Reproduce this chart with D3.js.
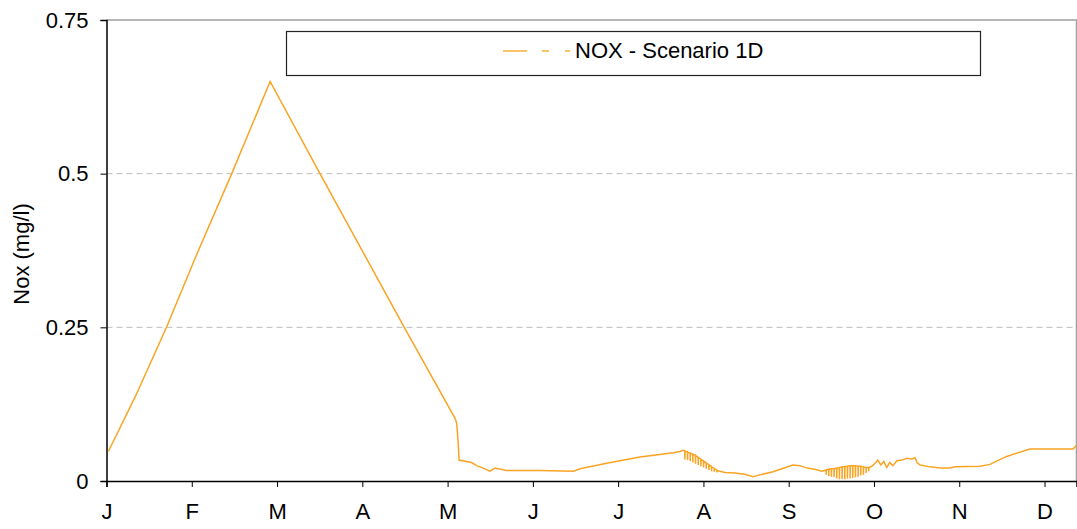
<!DOCTYPE html>
<html>
<head>
<meta charset="utf-8">
<script src="https://cdn.jsdelivr.net/npm/d3@7"></script>
<style>
  body { margin: 0; background: #fff; }
  text { font-family: "Liberation Sans", Arial, sans-serif; fill: #000; }
</style>
</head>
<body>
<svg id="chart"></svg>
<script>
// Month labels on the x axis (one tick every 32 days, as in the original)
const monthLabels = ['J', 'F', 'M', 'A', 'M', 'J', 'J', 'A', 'S', 'O', 'N', 'D'];
const yTicks = [0, 0.25, 0.5, 0.75];

// Day of year
const days = [
    0.7, 11.1, 22.6, 33.8, 47.0, 61.4, 80.1, 112.0, 130.8, 131.4, 132.0, 132.3,
    137.0, 138.9, 141.4, 143.9, 145.8, 150.2, 162.7, 175.2, 177.7, 187.7, 200.2, 212.7, 215.2,
    // August: daily swings
    216.3,
    217.0, 217.05, 217.1, 218.0, 218.05, 218.1, 219.0, 219.05, 219.1,
    220.0, 220.05, 220.1, 221.0, 221.05, 221.1, 222.0, 222.05, 222.1,
    223.0, 223.05, 223.1, 224.0, 224.05, 224.1, 225.0, 225.05, 225.1,
    226.0, 226.05, 226.1, 227.0, 227.05, 227.1, 228.0, 228.05, 228.1,
    229.0, 229.05, 229.1,
    230.2, 232.1, 235.8, 239.6, 242.6, 245.2,
    250.1, 257.6, 260.2, 262.9, 265.8, 268.5,
    // late September / early October: daily swings
    270.0, 270.05, 270.1, 271.0, 271.05, 271.1, 272.0, 272.05, 272.1,
    273.0, 273.05, 273.1, 274.0, 274.05, 274.1, 275.0, 275.05, 275.1,
    276.0, 276.05, 276.1, 277.0, 277.05, 277.1, 278.0, 278.05, 278.1,
    279.0, 279.05, 279.1, 280.0, 280.05, 280.1, 281.0, 281.05, 281.1,
    282.0, 282.05, 282.1, 283.0, 283.05, 283.1, 284.0, 284.05, 284.1,
    285.0, 285.05, 285.1, 286.0, 286.05, 286.1,
    287.2, 288.7, 289.4, 290.6, 291.7, 292.8, 293.9, 295.1, 296.6, 298.5, 300.4, 302.3,
    303.4, 304.2, 305.3, 309.0, 312.8, 316.5, 318.4, 327.8, 331.5, 337.8, 346.5, 362.7, 364
];
// NOx concentration (mg/l) for each day above
const nox = [
    0.048, 0.140, 0.251, 0.368, 0.500, 0.650, 0.500, 0.248, 0.102, 0.094, 0.061, 0.034,
    0.030, 0.025, 0.021, 0.016, 0.021, 0.017, 0.017, 0.016, 0.020, 0.029, 0.039, 0.046, 0.048,
    0.050,
    0.049, 0.035, 0.048, 0.048, 0.034, 0.047, 0.046, 0.032, 0.045,
    0.044, 0.030, 0.043, 0.042, 0.028, 0.041, 0.039, 0.026, 0.038,
    0.036, 0.024, 0.035, 0.033, 0.022, 0.032, 0.030, 0.020, 0.029,
    0.027, 0.018, 0.026, 0.024, 0.016, 0.023, 0.021, 0.015, 0.020,
    0.018, 0.014, 0.017,
    0.016, 0.014, 0.013, 0.011, 0.007, 0.010,
    0.015, 0.026, 0.025, 0.021, 0.019, 0.016,
    0.018, 0.010, 0.018, 0.019, 0.008, 0.019, 0.020, 0.007, 0.020,
    0.020, 0.006, 0.020, 0.021, 0.004, 0.021, 0.022, 0.003, 0.022,
    0.023, 0.003, 0.023, 0.023, 0.003, 0.023, 0.024, 0.004, 0.024,
    0.025, 0.004, 0.025, 0.025, 0.005, 0.025, 0.025, 0.006, 0.025,
    0.024, 0.007, 0.024, 0.024, 0.009, 0.024, 0.023, 0.010, 0.023,
    0.022, 0.013, 0.022, 0.022, 0.016, 0.022,
    0.024, 0.030, 0.034, 0.026, 0.032, 0.022, 0.030, 0.025, 0.033, 0.034, 0.037, 0.036,
    0.038, 0.030, 0.026, 0.023, 0.021, 0.021, 0.023, 0.024, 0.027, 0.040, 0.052, 0.052, 0.058
];

const W = 1077, H = 529;
const bounds = { left: 106.5, right: 1076.5, top: 20, bottom: 481 };
const lineColor = '#FAA424';
const fontSize = '22px';

let svg = d3.select('#chart').attr('width', W).attr('height', H);

let xScale = d3.scaleLinear().domain([0, 364]).range([bounds.left, bounds.right]);
let yScale = d3.scaleLinear().domain([0, 0.75]).range([bounds.bottom, bounds.top]);

// Plot area border (top and right are grey)
svg.append('path')
    .attr('d', `M${bounds.left},${bounds.top}H${bounds.right}V${bounds.bottom}`)
    .attr('fill', 'none')
    .attr('stroke', '#a0a0a0')
    .attr('stroke-width', 1.5);

// Dashed gridlines
svg.append('g')
    .selectAll('line')
    .data(yTicks.filter(d => d > 0 && d < 0.75))
    .enter()
    .append('line')
    .attr('x1', bounds.left)
    .attr('x2', bounds.right)
    .attr('y1', d => yScale(d))
    .attr('y2', d => yScale(d))
    .attr('stroke', '#bdbdbd')
    .attr('stroke-dasharray', '6,4');

// Y axis
let yAxis = svg.append('g')
    .attr('transform', `translate(${bounds.left},0)`)
    .call(d3.axisLeft(yScale).tickValues(yTicks).tickSize(6).tickPadding(12)
        .tickFormat(d => d === 0 ? '0' : String(d)));
yAxis.select('.domain').attr('stroke', '#000').attr('stroke-width', 1.5);
yAxis.selectAll('.tick line').attr('stroke', '#000');
yAxis.selectAll('text').style('font-size', fontSize).attr('fill', '#000');

// X axis
let xAxis = svg.append('g')
    .attr('transform', `translate(0,${bounds.bottom})`)
    .call(d3.axisBottom(xScale)
        .tickValues(monthLabels.map((m, i) => i * 32))
        .tickSize(6).tickPadding(16)
        .tickFormat((d, i) => monthLabels[i]));
xAxis.select('.domain').attr('stroke', '#000').attr('stroke-width', 1.5);
xAxis.selectAll('.tick line').attr('stroke', '#000');
xAxis.selectAll('text').style('font-size', fontSize).attr('fill', '#000');

// Y title
svg.append('text')
    .attr('transform', 'translate(29,254) rotate(-90)')
    .attr('text-anchor', 'middle')
    .style('font-size', fontSize)
    .text('Nox (mg/l)');

// Data line
let points = days.map((d, i) => [d, nox[i]]);
svg.append('path')
    .datum(points)
    .attr('fill', 'none')
    .attr('stroke', lineColor)
    .attr('stroke-width', 1.5)
    .attr('d', d3.line().x(d => xScale(d[0])).y(d => yScale(d[1])));

// Legend
let legend = svg.append('g');
legend.append('rect')
    .attr('x', 286.5).attr('y', 31.5)
    .attr('width', 694).attr('height', 44)
    .attr('fill', '#fff')
    .attr('stroke', '#222')
    .attr('stroke-width', 1.2);
legend.append('line')
    .attr('x1', 503).attr('x2', 571)
    .attr('y1', 51).attr('y2', 51)
    .attr('stroke', '#FCC46A')
    .attr('stroke-width', 2)
    .attr('stroke-dasharray', '24,15,7,16,5');
legend.append('text')
    .attr('x', 575)
    .attr('y', 58)
    .style('font-size', fontSize)
    .text('NOX - Scenario 1D');
</script>
</body>
</html>
